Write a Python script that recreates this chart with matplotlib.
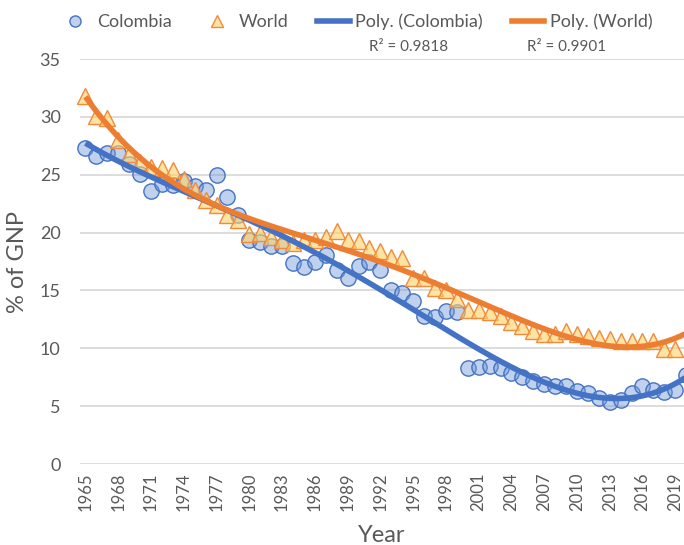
import matplotlib.pyplot as plt
from matplotlib.lines import Line2D
import numpy as np

plt.rcParams['font.family'] = ['Lato', 'DejaVu Sans']

# data, % of GNP
years = np.arange(1965, 2021)
colombia = [27.3, 26.6, 26.9, 26.9, 25.9, 25.1, 23.6, 24.2, 24.1, 24.5,
            24.0, 23.7, 25.0, 23.1, 21.5, 19.4, 19.2, 18.8, 18.8, 17.4,
            17.0, 17.5, 18.1, 16.8, 16.1, 17.1, 17.5, 16.8, 15.0, 14.8,
            14.1, 12.8, 12.7, 13.2, 13.1, 8.3, 8.4, 8.5, 8.3, 7.9,
            7.5, 7.2, 6.9, 6.7, 6.7, 6.3, 6.1, 5.7, 5.4, 5.5,
            6.1, 6.7, 6.4, 6.2, 6.4, 7.7]
world_years = np.arange(1965, 2020)
world = [31.8, 30.1, 29.9, 28.0, 26.8, 26.1, 25.7, 25.6, 25.4, 24.6,
         23.7, 22.8, 22.4, 21.5, 21.1, 19.9, 20.0, 19.6, 19.4, 19.1,
         19.4, 19.4, 19.6, 20.1, 19.4, 19.3, 18.7, 18.4, 17.9, 17.8,
         16.1, 16.1, 15.2, 15.0, 14.3, 13.3, 13.3, 13.1, 12.8, 12.3,
         11.9, 11.5, 11.2, 11.2, 11.5, 11.2, 11.1, 10.9, 10.8, 10.6,
         10.6, 10.6, 10.6, 9.9, 9.9]
r2_colombia = 'R² = 0.9818'
r2_world = 'R² = 0.9901'

blue = '#4472C4'
orange = '#ED7D31'
grey = '#595959'

fig = plt.figure(figsize=(6.84, 5.45), dpi=100)
ax = fig.add_axes([0.117, 0.1486, 0.883, 0.7431])

ax.plot(years, colombia, 'o', ms=11, mfc=(0.45, 0.6, 0.85, 0.45), mec=blue,
        mew=1.0, clip_on=False, zorder=3)
ax.plot(world_years, world, '^', ms=11, mfc=(1.0, 0.82, 0.4, 0.6), mec='#F08A3C',
        mew=1.0, clip_on=False, zorder=3)

# polynomial trend lines
xs = np.linspace(1965, 2020, 300)
pc = np.polyfit(years - 1992, colombia, 4)
pw = np.polyfit(world_years - 1992, world, 4)
ax.plot(xs, np.polyval(pc, xs - 1992), color=blue, lw=4, zorder=4, solid_capstyle='butt')
ax.plot(xs, np.polyval(pw, xs - 1992), color=orange, lw=4, zorder=5, solid_capstyle='butt')

ax.set_xlim(1964.5, 2019.8)
ax.set_ylim(0, 35)
ax.set_yticks(np.arange(0, 36, 5))
ax.set_xticks(np.arange(1965, 2020, 3))
ax.tick_params(axis='x', labelrotation=90, labelsize=12, colors=grey, length=0, pad=6)
ax.tick_params(axis='y', labelsize=13, colors=grey, length=0, pad=14)
ax.grid(axis='y', color='#D9D9D9', lw=1.3)
ax.set_axisbelow(True)
for s in ax.spines.values():
    s.set_visible(False)

ax.set_xlabel('Year', fontsize=17, color=grey, labelpad=10)
ax.set_ylabel('% of GNP', fontsize=17, color=grey, labelpad=8)

handles = [
    Line2D([], [], ls='none', marker='o', ms=8, mfc=(0.45, 0.6, 0.85, 0.45), mec=blue),
    Line2D([], [], ls='none', marker='^', ms=8, mfc=(1.0, 0.82, 0.4, 0.6), mec='#F08A3C'),
    Line2D([], [], color=blue, lw=4),
    Line2D([], [], color=orange, lw=4),
]
labels = ['Colombia', 'World', 'Poly. (Colombia)', 'Poly. (World)']
fig.legend(handles, labels, loc='center', bbox_to_anchor=(0.52, 0.96), ncol=4,
           frameon=False, fontsize=13, labelcolor=grey, handlelength=1.8,
           handletextpad=0.3, columnspacing=1.6)
fig.text(0.597, 0.913, r2_colombia, fontsize=11, color=grey, ha='center', va='center')
fig.text(0.828, 0.913, r2_world, fontsize=11, color=grey, ha='center', va='center')

fig.savefig('out.png', dpi=100)
